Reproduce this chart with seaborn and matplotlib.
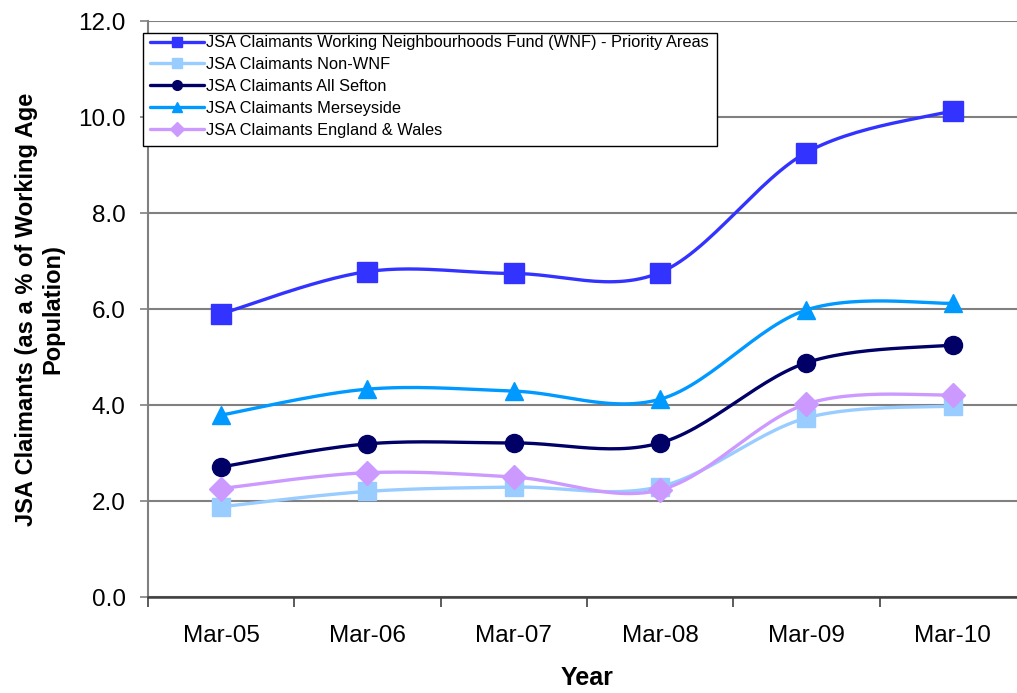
import numpy as np
import pandas as pd
import matplotlib
matplotlib.use("Agg")
import matplotlib.pyplot as plt
from matplotlib.lines import Line2D
from matplotlib.patches import Rectangle
import seaborn as sns

categories = ["Mar-05", "Mar-06", "Mar-07", "Mar-08", "Mar-09", "Mar-10"]
wnf = [5.90, 6.78, 6.74, 6.76, 9.26, 10.13]
non_wnf = [1.88, 2.20, 2.29, 2.30, 3.73, 3.98]
sefton = [2.71, 3.19, 3.21, 3.21, 4.88, 5.25]
merseyside = [3.79, 4.33, 4.29, 4.12, 5.98, 6.12]
eng_wales = [2.26, 2.59, 2.50, 2.23, 4.02, 4.21]

series_names = [
    "JSA Claimants Working Neighbourhoods Fund (WNF) - Priority Areas",
    "JSA Claimants Non-WNF",
    "JSA Claimants All Sefton",
    "JSA Claimants Merseyside",
    "JSA Claimants England & Wales",
]
series_values = [wnf, non_wnf, sefton, merseyside, eng_wales]
colors = ["#3333FF", "#99CCFF", "#000066", "#0099FF", "#CC99FF"]
markers = ["s", "s", "o", "^", "D"]
msizes = [14, 13, 13, 13, 12]

sns.set_theme(style="white")
plt.rcParams["font.family"] = ["Liberation Sans", "DejaVu Sans"]
plt.rcParams["text.color"] = "black"
plt.rcParams["axes.labelcolor"] = "black"
plt.rcParams["xtick.color"] = "black"
plt.rcParams["ytick.color"] = "black"


def smooth(xs, ys, n=30):
    # Catmull-Rom (Excel-style smoothed line) through the data points
    P = np.column_stack([xs, ys]).astype(float)
    P = np.vstack([P[0], P, P[-1]])
    out = []
    for i in range(1, len(P) - 2):
        p0, p1, p2, p3 = P[i - 1], P[i], P[i + 1], P[i + 2]
        c1 = p1 + (p2 - p0) / 6.0
        c2 = p2 - (p3 - p1) / 6.0
        t = np.linspace(0, 1, n)[:, None]
        seg = ((1 - t) ** 3) * p1 + 3 * ((1 - t) ** 2) * t * c1 + 3 * (1 - t) * t ** 2 * c2 + t ** 3 * p2
        out.append(seg if i == 1 else seg[1:])
    arr = np.vstack(out)
    return arr[:, 0], arr[:, 1]


W, H = 1017, 693
fig = plt.figure(figsize=(W / 100, H / 100), dpi=100)
left, right, top, bottom = 148, 148 + 6 * 146.3, 21, 597
ax = fig.add_axes([left / W, 1 - bottom / H, (right - left) / W, (bottom - top) / H])

xpos = np.arange(len(categories))
handles = []
for name, vals, c, m, ms in zip(series_names, series_values, colors, markers, msizes):
    sx, sy = smooth(xpos, vals)
    df = pd.DataFrame({"x": sx, "y": sy})
    sns.lineplot(data=df, x="x", y="y", sort=False, estimator=None, color=c, lw=2.4, ax=ax, zorder=3)
    ax.plot(xpos, vals, linestyle="none", marker=m, markersize=ms, color=c, markeredgecolor=c, zorder=4)
    handles.append(Line2D([0], [0], color=c, lw=2.4, marker=m, markersize=7, markeredgecolor=c))

ax.set_xlim(-0.5, 5.5)
ax.set_ylim(0, 12)
ax.set_yticks(np.arange(0, 12.1, 2))
ax.set_yticklabels([f"{v:.1f}" for v in np.arange(0, 12.1, 2)])
ax.set_xticks(xpos)
ax.set_xticklabels(categories)
ax.set_xticks(np.arange(-0.5, 5.6, 1), minor=True)
ax.tick_params(axis="x", which="major", length=0, pad=20, labelsize=17.5, labelcolor="black")
ax.tick_params(axis="x", which="minor", length=7, width=1.2, color="#404040", direction="out", bottom=True)
ax.tick_params(axis="y", which="major", length=6, width=1.2, color="#808080", left=True, pad=10, labelsize=17.5, labelcolor="black")

ax.grid(axis="y", color="#808080", lw=1.5)
ax.set_axisbelow(True)
for s in ["top", "right"]:
    ax.spines[s].set_visible(False)
ax.spines["left"].set_color("#808080")
ax.spines["left"].set_linewidth(1.5)
ax.spines["bottom"].set_color("#404040")
ax.spines["bottom"].set_linewidth(1.8)

ax.set_xlabel("Year", fontsize=18, fontweight="bold", labelpad=14, color="black")
ax.set_ylabel("")
fig.text(40 / W, 1 - 309 / H, "JSA Claimants (as a % of Working Age\nPopulation)",
         rotation=90, ha="center", va="center", multialignment="center",
         fontsize=17, fontweight="bold", linespacing=1.2, color="black")

# legend frame
fig.patches.append(Rectangle((143 / W, 1 - 146 / H), (717 - 143) / W, (146 - 33) / H,
                             transform=fig.transFigure, facecolor="white", edgecolor="black",
                             lw=1.0, zorder=5))
leg = fig.legend(handles, series_names, loc="upper left",
                 bbox_to_anchor=(147 / W, 1 - 32 / H),
                 fontsize=11.8, frameon=False, borderpad=0.2, labelspacing=0.42,
                 handlelength=3.3, handletextpad=0.1, borderaxespad=0)
leg.set_zorder(6)
for t in leg.get_texts():
    t.set_color("black")

fig.savefig("out.png", dpi=100)
